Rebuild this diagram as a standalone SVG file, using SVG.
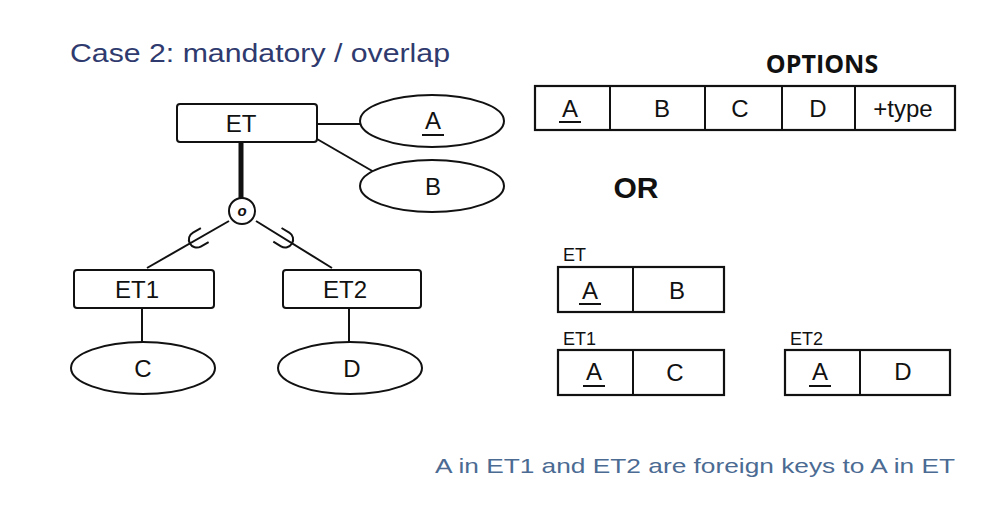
<svg xmlns="http://www.w3.org/2000/svg" width="990" height="518" viewBox="0 0 990 518">
<style>
.bx{fill:#fff;stroke:#111;stroke-width:2}
.tb{fill:#fff;stroke:#111;stroke-width:2.2}
.ln{stroke:#111;stroke-width:2;fill:none}
.t{font-family:"Liberation Sans",Arial,sans-serif;font-size:24px;fill:#111;text-anchor:middle}
.s{font-family:"Liberation Sans",Arial,sans-serif;font-size:18px;fill:#111}
.u{stroke:#111;stroke-width:2}
</style>
<rect width="990" height="518" fill="#fff"/>
<text x="70" y="62" font-family="Liberation Sans, Arial, sans-serif" font-size="25" fill="#2f3a6e" textLength="380" lengthAdjust="spacingAndGlyphs">Case 2: mandatory / overlap</text>

<g id="connectors">
<line class="ln" x1="317" y1="124" x2="360" y2="124"/>
<line class="ln" x1="317" y1="139" x2="374" y2="172"/>
<line x1="241" y1="143" x2="241" y2="198" stroke="#111" stroke-width="5"/>
<line class="ln" x1="229" y1="221" x2="147" y2="268"/>
<line class="ln" x1="256" y1="221" x2="332" y2="268"/>
<path class="ln" transform="translate(196,240) rotate(-29)" d="M10,-8 H1 A8,8 0 0 0 1,8 H10"/>
<path class="ln" transform="translate(286,240) rotate(-149)" d="M10,-8 H1 A8,8 0 0 0 1,8 H10"/>
<line class="ln" x1="142" y1="308" x2="142" y2="342"/>
<line class="ln" x1="349" y1="308" x2="349" y2="342"/>
</g>

<g id="ET"><rect class="bx" x="177" y="104" width="140" height="38" rx="3"/><text class="t" x="241" y="132">ET</text></g>
<g id="attrA"><ellipse class="bx" cx="432" cy="121" rx="72" ry="26"/><text class="t" x="433" y="129">A</text><line class="u" x1="422" y1="135" x2="444" y2="135"/></g>
<g id="attrB"><ellipse class="bx" cx="432" cy="186" rx="72" ry="26"/><text class="t" x="433" y="195">B</text></g>
<g id="overlap"><circle class="bx" cx="242" cy="211" r="13" stroke-width="2.5"/><text x="242" y="216" font-family="Liberation Sans, Arial, sans-serif" font-size="15" font-style="italic" font-weight="bold" text-anchor="middle" fill="#111">o</text></g>
<g id="ET1"><rect class="bx" x="74" y="270" width="140" height="38" rx="3"/><text class="t" x="137" y="298">ET1</text></g>
<g id="ET2"><rect class="bx" x="283" y="270" width="138" height="38" rx="3"/><text class="t" x="345" y="298">ET2</text></g>
<g id="attrC"><ellipse class="bx" cx="143" cy="368" rx="72" ry="26"/><text class="t" x="143" y="377">C</text></g>
<g id="attrD"><ellipse class="bx" cx="350" cy="368" rx="72" ry="26"/><text class="t" x="352" y="377">D</text></g>

<text x="822" y="73" font-family="Open Sans, Liberation Sans, sans-serif" font-size="25" font-weight="bold" text-anchor="middle" fill="#111">OPTIONS</text>
<g id="optionsTable">
<rect class="tb" x="535" y="86" width="420" height="44"/>
<line class="ln" x1="610" y1="86" x2="610" y2="130"/>
<line class="ln" x1="705" y1="86" x2="705" y2="130"/>
<line class="ln" x1="782" y1="86" x2="782" y2="130"/>
<line class="ln" x1="855" y1="86" x2="855" y2="130"/>
<text class="t" x="570" y="117">A</text><line class="u" x1="559" y1="122" x2="581" y2="122"/>
<text class="t" x="662" y="117">B</text>
<text class="t" x="740" y="117">C</text>
<text class="t" x="818" y="117">D</text>
<text class="t" x="903" y="117">+type</text>
</g>

<text x="636" y="198" font-family="Liberation Sans, Arial, sans-serif" font-size="30" font-weight="bold" text-anchor="middle" fill="#111">OR</text>

<g id="tableET">
<text class="s" x="563" y="261">ET</text>
<rect class="tb" x="558" y="267" width="166" height="45"/>
<line class="ln" x1="633" y1="267" x2="633" y2="312"/>
<text class="t" x="590" y="299">A</text><line class="u" x1="579" y1="304" x2="601" y2="304"/>
<text class="t" x="677" y="299">B</text>
</g>
<g id="tableET1">
<text class="s" x="563" y="345">ET1</text>
<rect class="tb" x="558" y="350" width="166" height="45"/>
<line class="ln" x1="633" y1="350" x2="633" y2="395"/>
<text class="t" x="594" y="380">A</text><line class="u" x1="583" y1="386" x2="605" y2="386"/>
<text class="t" x="675" y="381">C</text>
</g>
<g id="tableET2">
<text class="s" x="790" y="345">ET2</text>
<rect class="tb" x="785" y="350" width="165" height="45"/>
<line class="ln" x1="860" y1="350" x2="860" y2="395"/>
<text class="t" x="820" y="380">A</text><line class="u" x1="809" y1="386" x2="831" y2="386"/>
<text class="t" x="903" y="380">D</text>
</g>

<text x="435" y="473" font-family="Liberation Sans, Arial, sans-serif" font-size="21" fill="#4b6b93" textLength="520" lengthAdjust="spacingAndGlyphs">A in ET1 and ET2 are foreign keys to A in ET</text>
</svg>
